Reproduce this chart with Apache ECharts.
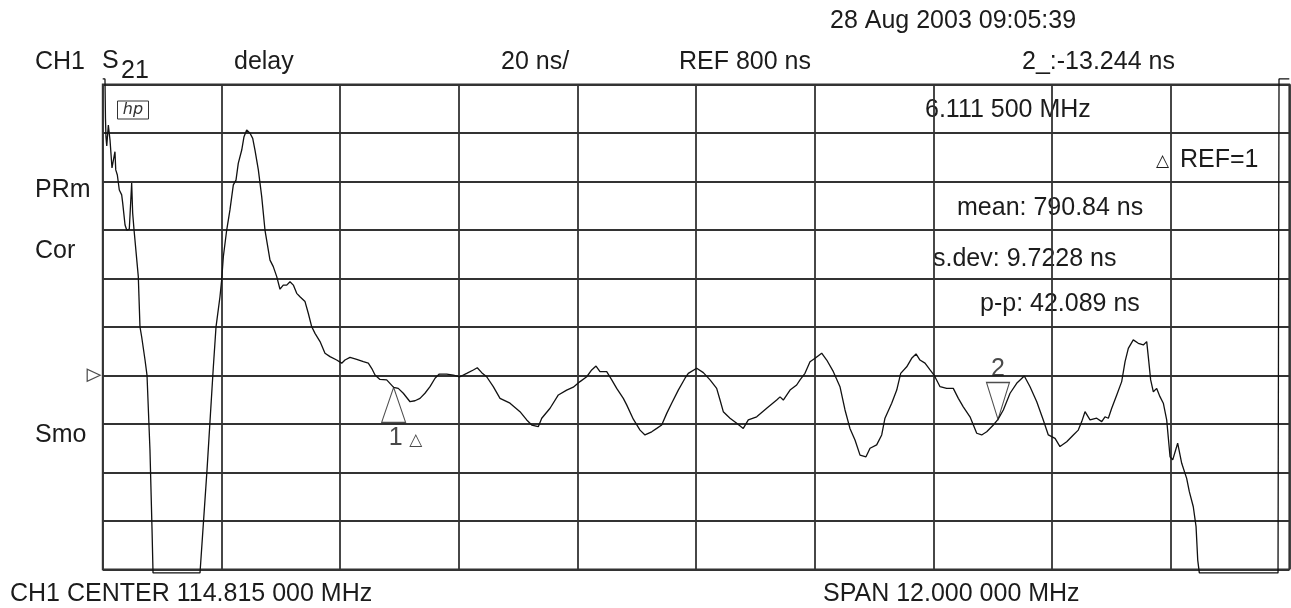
<!DOCTYPE html>
<html><head><meta charset="utf-8">
<script src="https://cdn.jsdelivr.net/npm/echarts@6/dist/echarts.min.js"></script>
<style>html,body{margin:0;padding:0;background:#fff}#c{width:1291px;height:608px}</style>
</head><body><div id="c"></div>
<script>
// Frequency axis (MHz): CENTER 114.815, SPAN 12
const startMHz = 108.815;
const stopMHz = 120.815;
// Delay axis (ns): REF 800 ns, 20 ns/div
const refNs = 800;
const minNs = 720;
const maxNs = 920;
const nsPerDiv = 20;

const freqMHz = [
108.815,108.838,108.843,108.848,108.856,108.872,108.882,108.889,108.909,108.939,
108.947,108.963,108.983,109.007,109.017,109.041,109.058,109.084,109.108,109.118,
109.132,109.175,109.192,109.209,109.243,109.263,109.293,109.314,109.324,109.799,
109.870,109.934,109.961,110.001,110.018,110.035,110.069,110.102,110.136,110.163,
110.186,110.221,110.244,110.271,110.287,110.305,110.332,110.355,110.389,110.423,
110.456,110.507,110.540,110.575,110.608,110.641,110.676,110.709,110.743,110.777,
110.810,110.861,110.894,110.929,110.962,111.013,111.063,111.114,111.181,111.232,
111.265,111.316,111.384,111.451,111.501,111.535,111.569,111.619,111.687,111.757,
111.804,111.855,111.923,111.973,112.024,112.074,112.125,112.176,112.219,112.294,
112.361,112.428,112.496,112.563,112.603,112.648,112.698,112.765,112.833,112.934,
113.035,113.103,113.154,113.220,113.255,113.339,113.423,113.507,113.574,113.642,
113.710,113.760,113.804,113.844,113.912,113.963,114.013,114.080,114.114,114.181,
114.249,114.299,114.367,114.418,114.468,114.519,114.569,114.636,114.704,114.737,
114.822,114.889,114.957,115.024,115.058,115.091,115.159,115.227,115.293,115.344,
115.429,115.530,115.631,115.665,115.698,115.766,115.833,115.867,115.917,115.968,
116.019,116.086,116.137,116.204,116.271,116.322,116.372,116.423,116.474,116.534,
116.575,116.642,116.693,116.726,116.794,116.845,116.885,116.946,116.996,117.040,
117.080,117.131,117.182,117.222,117.283,117.350,117.417,117.468,117.518,117.586,
117.654,117.704,117.755,117.822,117.869,117.923,117.991,118.058,118.135,118.193,
118.261,118.327,118.378,118.446,118.496,118.564,118.631,118.681,118.716,118.749,
118.800,118.867,118.918,118.951,118.985,119.019,119.070,119.120,119.154,119.187,
119.237,119.288,119.339,119.373,119.389,119.413,119.440,119.474,119.507,119.541,
119.575,119.609,119.636,119.686,119.727,119.777,119.804,119.844,119.872,119.889,
119.905,120.701,120.711,120.815
];
const delayNs = [
922.2,922.2,906.0,898.3,894.6,903.2,903.6,897.0,885.5,892.2,
884.7,882.6,876.4,874.4,871.1,862.0,859.9,860.3,879.3,866.9,
859.9,840.7,820.0,815.9,806.3,800.1,769.2,736.2,718.5,718.5,
761.0,803.5,820.0,832.4,839.3,848.9,859.9,868.2,878.5,880.5,
887.4,892.9,898.4,901.2,901.4,899.8,897.7,892.9,884.7,873.7,
859.9,847.5,844.8,840.7,835.5,837.2,837.2,838.6,837.2,833.8,
832.4,830.4,825.6,820.0,817.3,813.9,809.1,807.7,806.3,805.0,
806.3,807.4,806.6,805.6,805.0,802.9,800.1,798.3,798.1,795.0,
794.6,792.6,789.1,789.5,790.5,792.6,795.3,798.8,800.5,800.5,
800.1,799.4,800.8,802.2,803.1,801.1,799.4,795.3,790.5,788.5,
785.0,781.6,779.5,778.8,782.3,786.4,791.9,793.9,795.1,797.4,
799.4,802.2,803.8,801.5,801.5,798.1,794.6,790.5,787.8,781.9,
777.4,775.4,776.7,778.1,779.5,784.3,788.5,793.9,798.8,800.8,
802.9,801.1,798.1,794.6,789.8,785.0,782.3,780.2,778.1,781.6,
782.9,786.4,789.8,791.1,789.8,793.9,796.0,798.1,800.8,805.6,
807.0,809.1,806.3,801.5,795.3,785.7,778.1,773.3,767.1,766.4,
769.9,771.3,775.4,782.3,788.5,793.9,800.8,803.5,807.0,808.8,
806.3,805.0,802.2,800.1,795.3,794.6,794.6,790.5,787.0,782.9,
776.1,775.4,776.7,779.5,781.8,785.7,792.6,796.7,799.7,795.3,
789.1,781.6,775.4,774.0,770.6,772.6,775.4,777.4,780.9,785.0,
781.6,782.3,780.9,782.9,782.3,786.4,791.9,797.4,805.6,811.1,
814.6,813.2,812.5,813.9,807.7,798.1,793.2,794.6,791.2,788.5,
781.6,766.4,765.1,772.0,763.7,757.5,752.0,745.8,737.6,723.8,
718.5,718.5,922.2,922.2
];

// Markers: 1 (reference), 2 (delta 6.1115 MHz, -13.244 ns)
const markerFreq = [111.757, 117.869];
const markerDelay = [795.0, 781.8];

const textTop = [
  ['28 Aug 2003 09:05:39', 830, 21],
  ['CH1', 35, 62],
  ['S', 102, 61],
  ['delay', 234, 62],
  ['20 ns/', 501, 62],
  ['REF 800 ns', 679, 62],
  ['2_:-13.244 ns', 1022, 62],
  ['6.111 500 MHz', 925, 110],
  ['REF=1', 1180, 160],
  ['mean: 790.84 ns', 957, 208],
  ['s.dev: 9.7228 ns', 933, 259],
  ['p-p: 42.089 ns', 980, 304],
  ['PRm', 35, 190],
  ['Cor', 35, 251],
  ['Smo', 35, 435],
  ['CH1 CENTER 114.815 000 MHz', 10, 594],
  ['SPAN 12.000 000 MHz', 823, 594]
];

const FONT = '25px "Liberation Sans", Arial, sans-serif';
const INK = '#1c1c1c';
const GRIDC = '#333333';

const graphics = textTop.map(([t, x, y]) => ({
  type: 'text', silent: true,
  style: { text: t, x: x, y: y, font: FONT, fill: INK, verticalAlign: 'middle', textAlign: 'left' }
}));
graphics.push({ type: 'text', silent: true,
  style: { text: '21', x: 121, y: 71, font: FONT, fill: INK, verticalAlign: 'middle' } });
graphics.push({ type: 'text', silent: true,
  style: { text: '\u25B3', x: 1156, y: 162, font: '17px "DejaVu Sans", sans-serif', fill: INK, verticalAlign: 'middle' } });
// hp logo
graphics.push({ type: 'rect', silent: true, shape: { x: 117.5, y: 101, width: 31, height: 18 },
  style: { fill: 'none', stroke: '#333', lineWidth: 1 } });
graphics.push({ type: 'text', silent: true,
  style: { text: 'hp', x: 133, y: 110, font: 'italic 16px "DejaVu Sans", sans-serif', fill: '#333', textAlign: 'center', verticalAlign: 'middle' } });

const chart = echarts.init(document.getElementById('c'), null, { renderer: 'canvas' });
chart.setOption({
  animation: false,
  backgroundColor: '#ffffff',
  grid: { left: 102.7, top: 84.3, width: 1186.6, height: 485, show: true,
          borderColor: GRIDC, borderWidth: 1.8, backgroundColor: 'rgba(0,0,0,0)' },
  xAxis: [
    { type: 'value', min: 0, max: 10, interval: 1,
      axisLine: { show: false }, axisTick: { show: false }, axisLabel: { show: false },
      splitLine: { show: true, lineStyle: { color: GRIDC, width: 1.8 } } },
    { type: 'value', min: startMHz, max: stopMHz, show: false,
      splitLine: { show: false } }
  ],
  yAxis: { type: 'value', min: minNs, max: maxNs, interval: nsPerDiv,
    axisLine: { show: false }, axisTick: { show: false }, axisLabel: { show: false },
    splitLine: { show: true, lineStyle: { color: GRIDC, width: 1.8 } } },
  graphic: graphics,
  series: [
    { type: 'line', xAxisIndex: 1, clip: false, showSymbol: false, symbol: 'none',
      data: freqMHz.map((f, i) => [f, delayNs[i]]),
      lineStyle: { color: '#111', width: 1.3 }, z: 3 },
    { type: 'scatter', xAxisIndex: 1, clip: false, silent: true,
      data: [[markerFreq[0], markerDelay[0]]],
      symbol: 'triangle', symbolSize: [24, 35], symbolOffset: [0, '50%'],
      itemStyle: { color: 'rgba(0,0,0,0)', borderColor: '#222', borderWidth: 1.2 },
      label: { show: true, position: 'bottom', distance: 2, offset: [12, 0],
        formatter: '{a|1}  {b|\u25B3}',
        rich: { a: { fontFamily: 'Liberation Sans', fontSize: 25, color: INK },
                b: { fontFamily: 'DejaVu Sans', fontSize: 17, color: INK, padding: [6, 0, 0, 0] } } },
      z: 4 },
    { type: 'scatter', xAxisIndex: 1, clip: false, silent: true,
      data: [[markerFreq[1], markerDelay[1]]],
      symbol: 'triangle', symbolRotate: 180, symbolSize: [23, 37], symbolOffset: [0, '-50%'],
      itemStyle: { color: 'rgba(0,0,0,0)', borderColor: '#222', borderWidth: 1.2 },
      label: { show: true, position: 'top', distance: 0, formatter: '2',
        fontFamily: 'Liberation Sans', fontSize: 25, color: INK },
      z: 4 },
    { type: 'scatter', xAxisIndex: 1, clip: false, silent: true,
      data: [[startMHz, refNs]],
      symbol: 'triangle', symbolRotate: -90, symbolSize: [12, 13], symbolOffset: [-9, 0],
      itemStyle: { color: 'rgba(0,0,0,0)', borderColor: '#222', borderWidth: 1.2 },
      z: 4 }
  ]
});
</script>
</body></html>
